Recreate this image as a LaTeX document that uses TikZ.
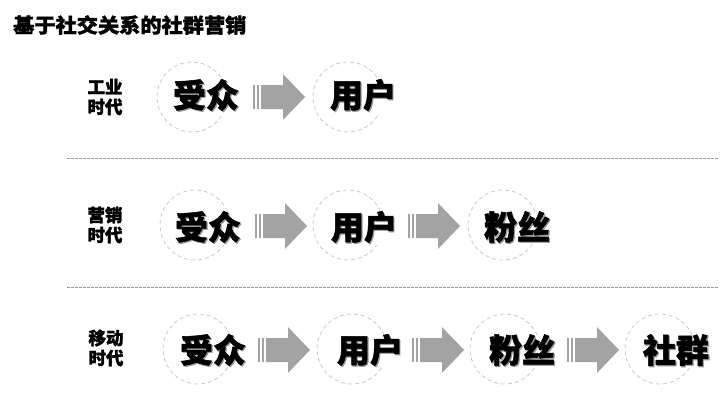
\documentclass[tikz,border=0pt]{standalone}
\usepackage{fontspec}
\newfontfamily\cjk{Noto Sans CJK SC}[BoldFeatures={FakeBold=1.6}]
\definecolor{arrowgray}{HTML}{A3A3A3}
\definecolor{ringgray}{HTML}{C4C4C4}
\definecolor{sepgray}{HTML}{9A9A9A}
\newcommand\flowarrow[2]{%
  \fill[arrowgray] (#1,#2-12) rectangle (#1+2,#2+12);
  \fill[arrowgray] (#1+4,#2-12) rectangle (#1+6,#2+12);
  \fill[arrowgray] (#1+8,#2-12) -- (#1+30,#2-12) -- (#1+30,#2-23) -- (#1+52,#2)
     -- (#1+30,#2+23) -- (#1+30,#2+12) -- (#1+8,#2+12) -- cycle;}
\tikzset{
  ring/.style={circle, draw=ringgray, dash pattern=on 4pt off 3pt, line width=0.7pt, minimum size=70pt, inner sep=0pt},
  wordbg/.style={font=\cjk\bfseries\fontsize{33}{33}\selectfont, fill=white, inner sep=0.5pt, text=black!40},
  word/.style={font=\cjk\bfseries\fontsize{33}{33}\selectfont, inner sep=0.5pt, text=black},
  era/.style={font=\cjk\bfseries\fontsize{17.5}{20}\selectfont, align=center, inner sep=0pt},
  sepline/.style={draw=sepgray, dash pattern=on 2.5pt off 1.5pt, line width=0.8pt},
  titletext/.style={font=\cjk\bfseries\fontsize{20}{20}\selectfont, inner sep=0pt, anchor=west, xscale=1.06}
}
\newcommand\wordat[4]{% name, x, y, text
  \node[wordbg] (#1s) at (#2+1.2,#3+1.2) {#4};
  \node[word] (#1) at (#2,#3) {#4};}
\begin{document}
\begin{tikzpicture}[x=1pt,y=-1pt]
\useasboundingbox[fill=white] (0,0) rectangle (725,402);
\node[titletext] (title) at (13,25) {基于社交关系的社群营销};

% separators
\coordinate (s1a) at (67,158); \coordinate (s1b) at (718,158);
\coordinate (s2a) at (67,287); \coordinate (s2b) at (718,287);
\draw[sepline] (s1a) -- (s1b);
\draw[sepline] (s2a) -- (s2b);

% row 1
\node[era] (e1) at (105,97) {工业\\时代};
\node[ring] (r11) at (192,97) {};
\node[ring] (r12) at (348,97) {};
\wordat{w11}{206}{95}{受众}
\wordat{w12}{363}{95}{用户}
\flowarrow{253}{97}

% row 2
\node[era] (e2) at (105,225) {营销\\时代};
\node[ring] (r21) at (195,225) {};
\node[ring] (r22) at (348,225) {};
\node[ring] (r23) at (503,225) {};
\wordat{w21}{208}{227}{受众}
\wordat{w22}{364}{227}{用户}
\wordat{w23}{517}{227}{粉丝}
\flowarrow{255}{226}
\flowarrow{408}{226}

% row 3
\node[era] (e3) at (106,348) {移动\\时代};
\node[ring] (r31) at (198,349) {};
\node[ring] (r32) at (352,349) {};
\node[ring] (r33) at (505,349) {};
\node[ring] (r34) at (660,349) {};
\wordat{w31}{213}{350}{受众}
\wordat{w32}{370}{350}{用户}
\wordat{w33}{522}{350}{粉丝}
\wordat{w34}{676}{350}{社群}
\flowarrow{258}{350}
\flowarrow{412}{350}
\flowarrow{567}{350}
\end{tikzpicture}
\end{document}
